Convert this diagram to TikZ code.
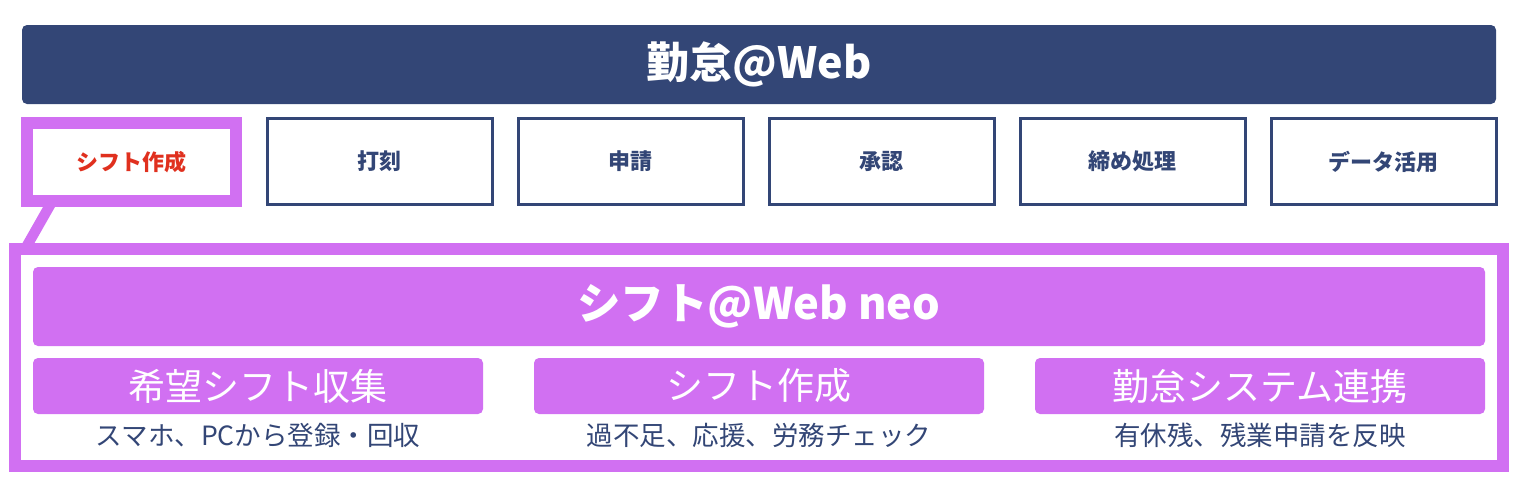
\documentclass[tikz,border=0pt]{standalone}
\usepackage{fontspec}
\setmainfont{Noto Sans CJK JP}
\definecolor{navy}{HTML}{334676}
\definecolor{purp}{HTML}{D170F2}
\definecolor{redt}{HTML}{E0301E}
\tikzset{
  banner/.style={fill=#1, rounded corners=5pt, inner sep=0pt, text=white},
  modbox/.style={draw=navy, line width=3pt, fill=white, minimum width=225pt, minimum height=86pt, inner sep=0pt, text=navy, font=\fontsize{22}{22}\selectfont\bfseries},
  subbox/.style={fill=purp, rounded corners=5pt, minimum width=450pt, minimum height=56pt, inner sep=0pt, text=white, font=\fontsize{37}{37}\selectfont},
  caption/.style={text=navy, inner sep=0pt, font=\fontsize{26.5}{26.5}\selectfont},
}
\begin{document}
\begin{tikzpicture}[x=1pt,y=-1pt]
\useasboundingbox (0,0) rectangle (1520,480);
% top banner
\node[banner=navy, minimum width=1474pt, minimum height=79pt, font=\fontsize{43}{43}\selectfont\bfseries] (kintai) at (759,64.5) {勤怠@Web};
% connector
\coordinate (c1) at (52.4,201);
\coordinate (c2) at (25.1,249);
\draw[purp, line width=10.4pt] (c1) -- (c2);
% big frame
\node[draw=purp, line width=12pt, fill=white, minimum width=1488pt, minimum height=217pt, inner sep=0pt] (frame) at (759,357.5) {};
% module boxes
\node[draw=purp, line width=12pt, fill=white, minimum width=209pt, minimum height=78pt, inner sep=0pt, text=redt, font=\fontsize{22}{22}\selectfont\bfseries] (m0) at (131.5,162) {シフト作成};
\node[modbox] (m1) at (379.5,161.5) {打刻};
\node[modbox] (m2) at (630.5,161.5) {申請};
\node[modbox] (m3) at (881.5,161.5) {承認};
\node[modbox] (m4) at (1132.5,161.5) {締め処理};
\node[modbox] (m5) at (1383.5,161.5) {データ活用};
% inner banner
\node[banner=purp, minimum width=1452pt, minimum height=79pt, font=\fontsize{43.5}{43.5}\selectfont\bfseries] (neo) at (759,306.5) {シフト@Web neo};
% sub boxes
\node[subbox] (s1) at (258,386) {希望シフト収集};
\node[subbox] (s2) at (759,386) {シフト作成};
\node[subbox] (s3) at (1260,386) {勤怠システム連携};
% captions
\node[caption] (t1) at (258,435) {スマホ、PCから登録・回収};
\node[caption] (t2) at (759,435) {過不足、応援、労務チェック};
\node[caption] (t3) at (1260,435) {有休残、残業申請を反映};
\end{tikzpicture}
\end{document}
